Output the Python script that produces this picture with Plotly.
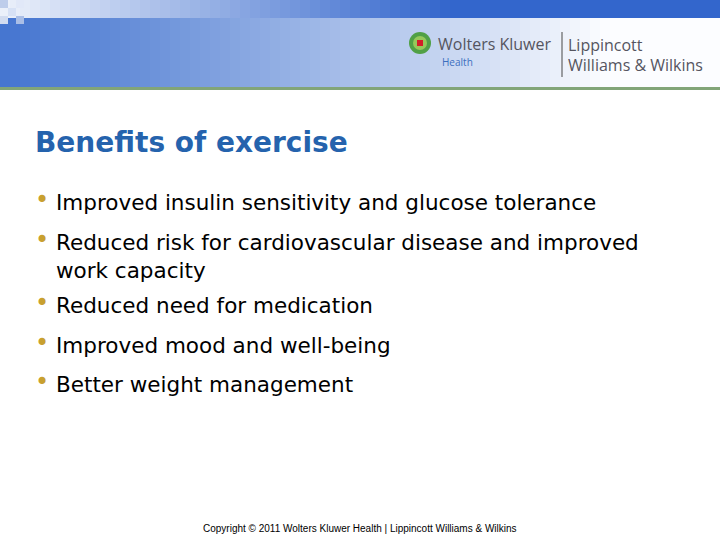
import plotly.graph_objects as go

title = "Benefits of exercise"
bullets = [
    "Improved insulin sensitivity and glucose tolerance",
    "Reduced risk for cardiovascular disease and improved<br>work capacity",
    "Reduced need for medication",
    "Improved mood and well-being",
    "Better weight management",
]
bullet_y = [200, 240, 303, 343, 382]
footer = "Copyright © 2011 Wolters Kluwer Health | Lippincott Williams & Wilkins"

def lerp(c1, c2, t):
    return "rgb(%d,%d,%d)" % tuple(round(a + (b - a) * t) for a, b in zip(c1, c2))

shapes = []
N = 72
for i in range(N):
    t = i / (N - 1)
    x0, x1 = i * 10, i * 10 + 10.5
    shapes.append(dict(type="rect", x0=x0, x1=x1, y0=0, y1=18, line_width=0,
                       fillcolor=lerp((235, 240, 250), (51, 102, 204), min(1, t * 1.6))))
    tt = min(1, t / 0.85)
    shapes.append(dict(type="rect", x0=x0, x1=x1, y0=18, y1=87, line_width=0,
                       fillcolor=lerp((70, 118, 208), (252, 253, 255), tt ** 1.1)))
for (x, y, c) in [(0, 0, "rgb(190,205,235)"), (8, 8, "rgb(215,225,245)"), (16, 0, "rgb(225,232,248)"),
                  (0, 16, "rgb(210,220,240)"), (16, 16, "rgb(170,190,230)")]:
    shapes.append(dict(type="rect", x0=x, x1=x + 8, y0=y, y1=y + 8, line_width=0, fillcolor=c))
shapes.append(dict(type="rect", x0=0, x1=720, y0=87, y1=90, line_width=0, fillcolor="rgb(130,165,120)"))
shapes.append(dict(type="circle", x0=409, x1=431, y0=32, y1=54, line_width=0, fillcolor="rgb(80,160,70)"))
shapes.append(dict(type="circle", x0=413, x1=427, y0=36, y1=50, line_width=0, fillcolor="rgb(150,200,90)"))
shapes.append(dict(type="rect", x0=417, x1=423, y0=40, y1=46, line_width=0, fillcolor="rgb(210,30,40)"))
shapes.append(dict(type="line", x0=562, x1=562, y0=32, y1=77, line=dict(color="rgb(70,70,70)", width=1)))

ann = []
def t(x, y, s, size, color, fam="DejaVu Sans", xa="left"):
    ann.append(dict(x=x, y=y, text=s, showarrow=False, xanchor=xa, yanchor="middle",
                    align="left", font=dict(size=size, color=color, family=fam)))

t(436, 44, "Wolters Kluwer", 16, "rgb(85,85,95)", "Open Sans")
t(440, 62, "Health", 10, "rgb(60,110,190)", "Open Sans")
t(566, 45, "Lippincott", 16, "rgb(85,85,95)", "Open Sans")
t(566, 65, "Williams &amp; Wilkins", 16, "rgb(85,85,95)", "Open Sans")
t(33, 142, "<b>" + title + "</b>", 28, "rgb(37,99,173)")
for s, y in zip(bullets, bullet_y):
    t(33, y, "•", 24, "rgb(200,160,48)")
    ann.append(dict(x=54, y=y - 12, text=s, showarrow=False, xanchor="left", yanchor="top",
                    align="left", font=dict(size=21.5, color="black", family="DejaVu Sans")))
t(360, 528, footer, 10, "black", "Liberation Sans", "center")

fig = go.Figure()
fig.update_layout(width=720, height=540, margin=dict(l=0, r=0, t=0, b=0),
                  paper_bgcolor="white", plot_bgcolor="white",
                  xaxis=dict(range=[0, 720], visible=False, fixedrange=True),
                  yaxis=dict(range=[540, 0], visible=False, fixedrange=True),
                  shapes=shapes, annotations=ann, showlegend=False)
fig.write_html("out.html", config={"displayModeBar": False},
               post_script="document.body.style.margin='0';")
